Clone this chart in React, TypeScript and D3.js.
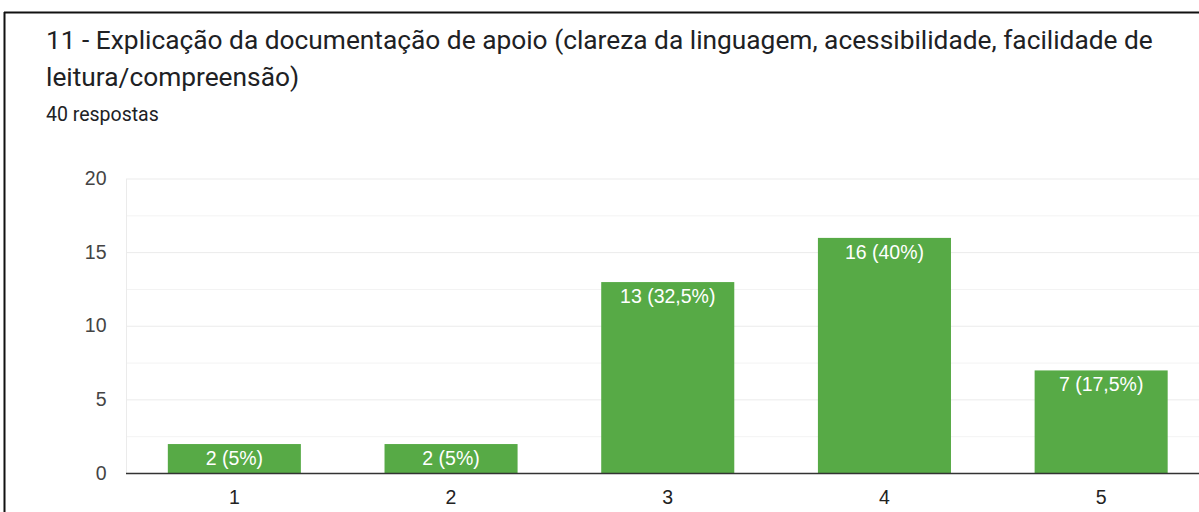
import React from "react";
import * as d3 from "d3";

const categories = ["1", "2", "3", "4", "5"];
const counts = [2, 2, 13, 16, 7];
const barLabels = ["2 (5%)", "2 (5%)", "13 (32,5%)", "16 (40%)", "7 (17,5%)"];
const yTicks = [0, 5, 10, 15, 20];
const yMinorTicks = [2.5, 7.5, 12.5, 17.5];
const titleLines = [
  "11 - Explicação da documentação de apoio (clareza da linguagem, acessibilidade, facilidade de",
  "leitura/compreensão)",
];
const subtitle = "40 respostas";

const W = 1199;
const H = 512;
const plotLeft = 126;
const plotRight = 1209.5;
const plotTop = 179;
const plotBottom = 473.5;

export default function App() {
  const x = d3
    .scaleBand<string>()
    .domain(categories)
    .range([plotLeft, plotRight])
    .paddingInner(0.386)
    .paddingOuter(0.193);
  const y = d3.scaleLinear().domain([0, 20]).range([plotBottom, plotTop]);
  const chartFont = "Arial, 'Liberation Sans', sans-serif";

  return (
    <svg
      width={W}
      height={H}
      style={{ position: "absolute", left: 0, top: 0, background: "#fff" }}
    >
      {/* frame */}
      <line x1={4.5} x2={4.5} y1={12} y2={H} stroke="#111" strokeWidth={2} />
      <line x1={4} x2={W} y1={12.5} y2={12.5} stroke="#111" strokeWidth={2} />

      {/* title */}
      {titleLines.map((t, i) => (
        <text
          key={i}
          x={46}
          y={49 + i * 37}
          fontFamily="Roboto, sans-serif"
          fontSize={26.3}
          fill="#202124"
        >
          {t}
        </text>
      ))}
      <text x={46} y={121} fontFamily="Roboto, sans-serif" fontSize={19.5} fill="#202124">
        {subtitle}
      </text>

      {/* grid */}
      {yMinorTicks.map((t) => (
        <line key={"m" + t} x1={plotLeft} x2={W} y1={y(t)} y2={y(t)} stroke="#f3f3f3" />
      ))}
      {yTicks.slice(1).map((t) => (
        <line key={"g" + t} x1={plotLeft} x2={W} y1={y(t)} y2={y(t)} stroke="#ebebeb" />
      ))}
      <line x1={plotLeft + 0.5} x2={plotLeft + 0.5} y1={plotTop} y2={plotBottom} stroke="#ebebeb" />

      {/* y labels */}
      {yTicks.map((t) => (
        <text
          key={"y" + t}
          x={106.5}
          y={y(t) + 6}
          textAnchor="end"
          fontFamily={chartFont}
          fontSize={19.5}
          fill="#444"
        >
          {t}
        </text>
      ))}

      {/* bars */}
      {counts.map((v, i) => {
        const bx = x(categories[i]) as number;
        return (
          <g key={"b" + i}>
            <rect x={bx} y={y(v)} width={x.bandwidth()} height={plotBottom - y(v)} fill="#57aa46" />
            <text
              x={bx + x.bandwidth() / 2}
              y={y(v) + 21}
              textAnchor="middle"
              fontFamily={chartFont}
              fontSize={19.5}
              fill="#fff"
            >
              {barLabels[i]}
            </text>
          </g>
        );
      })}

      {/* baseline */}
      <line x1={plotLeft} x2={W} y1={plotBottom} y2={plotBottom} stroke="#333" strokeWidth={1.5} />

      {/* x labels */}
      {categories.map((c) => (
        <text
          key={"x" + c}
          x={(x(c) as number) + x.bandwidth() / 2}
          y={504}
          textAnchor="middle"
          fontFamily={chartFont}
          fontSize={19.5}
          fill="#222"
        >
          {c}
        </text>
      ))}
    </svg>
  );
}
